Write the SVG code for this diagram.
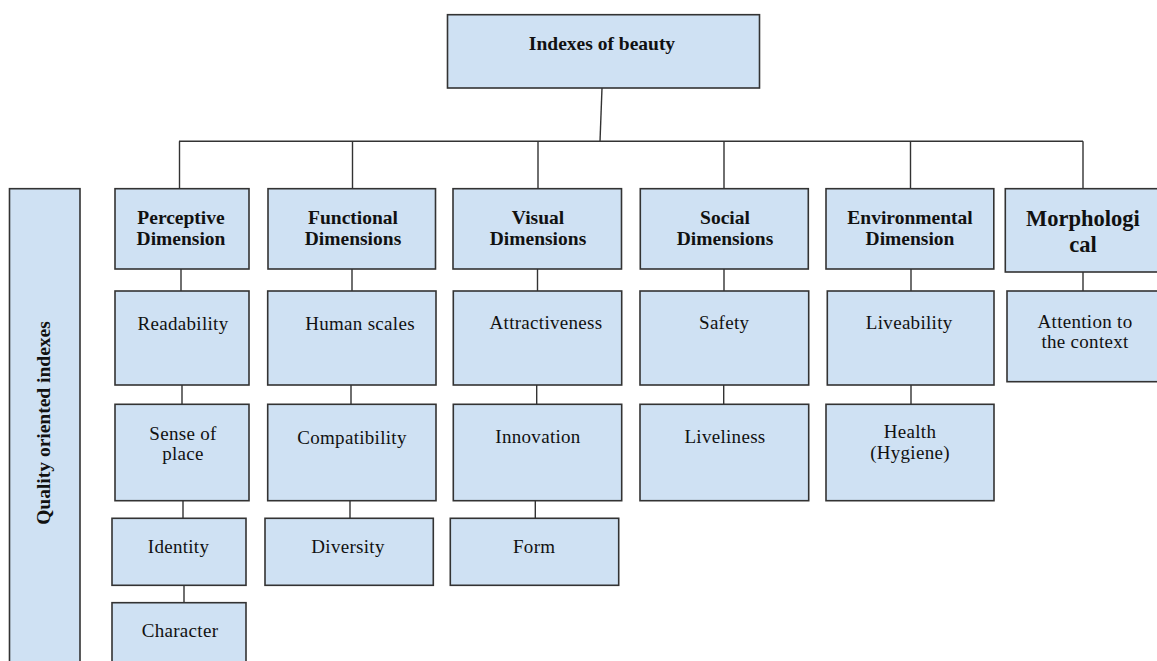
<svg xmlns="http://www.w3.org/2000/svg" width="1157" height="661" viewBox="0 0 1157 661">
<style>
.box{fill:#cfe1f3;stroke:#333;stroke-width:1.6}
.t{font-family:"Liberation Serif","Tinos","Times New Roman","DejaVu Serif",serif;font-size:19px;font-weight:normal;letter-spacing:0.3px;fill:#111;text-anchor:middle}
.b{font-weight:bold;font-size:19.5px;letter-spacing:0}
.m{font-size:22.5px}
.c line{stroke:#333;stroke-width:1.4}
</style>
<rect width="1157" height="661" fill="#fff"/>
<g class="c" id="connectors">
<line x1="602" y1="88" x2="600" y2="141.3"/>
<line x1="179" y1="141.3" x2="1083" y2="141.3"/>
<line x1="179.5" y1="141.3" x2="179.5" y2="188.7"/>
<line x1="352.5" y1="141.3" x2="352.5" y2="188.7"/>
<line x1="538" y1="141.3" x2="538" y2="188.7"/>
<line x1="724" y1="141.3" x2="724" y2="188.7"/>
<line x1="910.5" y1="141.3" x2="910.5" y2="188.7"/>
<line x1="1083" y1="141.3" x2="1083" y2="188.7"/>
<line x1="181" y1="269" x2="181" y2="291"/>
<line x1="182" y1="385" x2="182" y2="404"/>
<line x1="183" y1="500.7" x2="183" y2="518.3"/>
<line x1="184" y1="585.3" x2="184" y2="602.7"/>
<line x1="352" y1="269" x2="352" y2="291"/>
<line x1="351" y1="385" x2="351" y2="404"/>
<line x1="350" y1="500.7" x2="350" y2="518.3"/>
<line x1="537.5" y1="269" x2="537.5" y2="291"/>
<line x1="536.7" y1="385" x2="536.7" y2="404"/>
<line x1="535.3" y1="500.7" x2="535.3" y2="518.3"/>
<line x1="724" y1="269" x2="724" y2="291"/>
<line x1="723.7" y1="385" x2="723.7" y2="404"/>
<line x1="911" y1="269" x2="911" y2="291"/>
<line x1="911" y1="385" x2="911" y2="404"/>
<line x1="1083" y1="272" x2="1083" y2="291"/>
</g>
<g id="root"><rect class="box" x="447.5" y="14.7" width="312" height="73.3"/><text class="t b" x="602" y="50">Indexes of beauty</text></g>
<g id="quality"><rect class="box" x="9.5" y="188.7" width="70.5" height="480"/><text class="t b" transform="translate(50,423) rotate(-90)">Quality oriented indexes</text></g>
<g id="perceptive"><rect class="box" x="115" y="188.7" width="134" height="80.3"/><text class="t b" x="181" y="224">Perceptive</text><text class="t b" x="181" y="245">Dimension</text></g>
<g id="functional"><rect class="box" x="268" y="188.7" width="167.5" height="80.3"/><text class="t b" x="353" y="224">Functional</text><text class="t b" x="353" y="245">Dimensions</text></g>
<g id="visual"><rect class="box" x="453" y="188.7" width="168.5" height="80.3"/><text class="t b" x="538" y="224">Visual</text><text class="t b" x="538" y="245">Dimensions</text></g>
<g id="social"><rect class="box" x="640.3" y="188.7" width="168" height="80.3"/><text class="t b" x="725" y="224">Social</text><text class="t b" x="725" y="245">Dimensions</text></g>
<g id="environmental"><rect class="box" x="826" y="188.7" width="167.8" height="80.3"/><text class="t b" x="910" y="224">Environmental</text><text class="t b" x="910" y="245">Dimension</text></g>
<g id="morphological"><rect class="box" x="1005.3" y="188.7" width="158" height="83.3"/><text class="t b m" x="1083" y="226">Morphologi</text><text class="t b m" x="1083" y="251.7">cal</text></g>
<g id="readability"><rect class="box" x="115" y="291" width="134" height="94"/><text class="t" x="183" y="330">Readability</text></g>
<g id="sense"><rect class="box" x="115" y="404.3" width="134" height="96.4"/><text class="t" x="183" y="440">Sense of</text><text class="t" x="183" y="460">place</text></g>
<g id="identity"><rect class="box" x="112" y="518.3" width="134" height="67"/><text class="t" x="178.5" y="553.3">Identity</text></g>
<g id="character"><rect class="box" x="112" y="602.7" width="134" height="70"/><text class="t" x="180" y="636.7">Character</text></g>
<g id="human"><rect class="box" x="267.7" y="291" width="168.3" height="94"/><text class="t" x="360" y="330">Human scales</text></g>
<g id="compat"><rect class="box" x="267.7" y="404.3" width="168.3" height="96.4"/><text class="t" x="352" y="444">Compatibility</text></g>
<g id="diversity"><rect class="box" x="265" y="518.3" width="168.3" height="67"/><text class="t" x="348" y="553.3">Diversity</text></g>
<g id="attract"><rect class="box" x="453.3" y="291" width="168.4" height="94"/><text class="t" x="546" y="329.3">Attractiveness</text></g>
<g id="innovation"><rect class="box" x="453.3" y="404.3" width="168.4" height="96.4"/><text class="t" x="538" y="443.3">Innovation</text></g>
<g id="form"><rect class="box" x="450.3" y="518.3" width="168.4" height="67"/><text class="t" x="534.2" y="553.3">Form</text></g>
<g id="safety"><rect class="box" x="640" y="291" width="168.7" height="94"/><text class="t" x="724.2" y="329.3">Safety</text></g>
<g id="liveliness"><rect class="box" x="640" y="404.3" width="168.7" height="96.4"/><text class="t" x="725" y="443.3">Liveliness</text></g>
<g id="liveability"><rect class="box" x="827.3" y="291" width="166.7" height="94"/><text class="t" x="909.2" y="329.3">Liveability</text></g>
<g id="health"><rect class="box" x="826" y="404.3" width="168" height="96.4"/><text class="t" x="910" y="438.3">Health</text><text class="t" x="910" y="459">(Hygiene)</text></g>
<g id="attention"><rect class="box" x="1007" y="291" width="156" height="90.7"/><text class="t" x="1085" y="328.3">Attention to</text><text class="t" x="1085" y="348.3">the context</text></g>
</svg>
